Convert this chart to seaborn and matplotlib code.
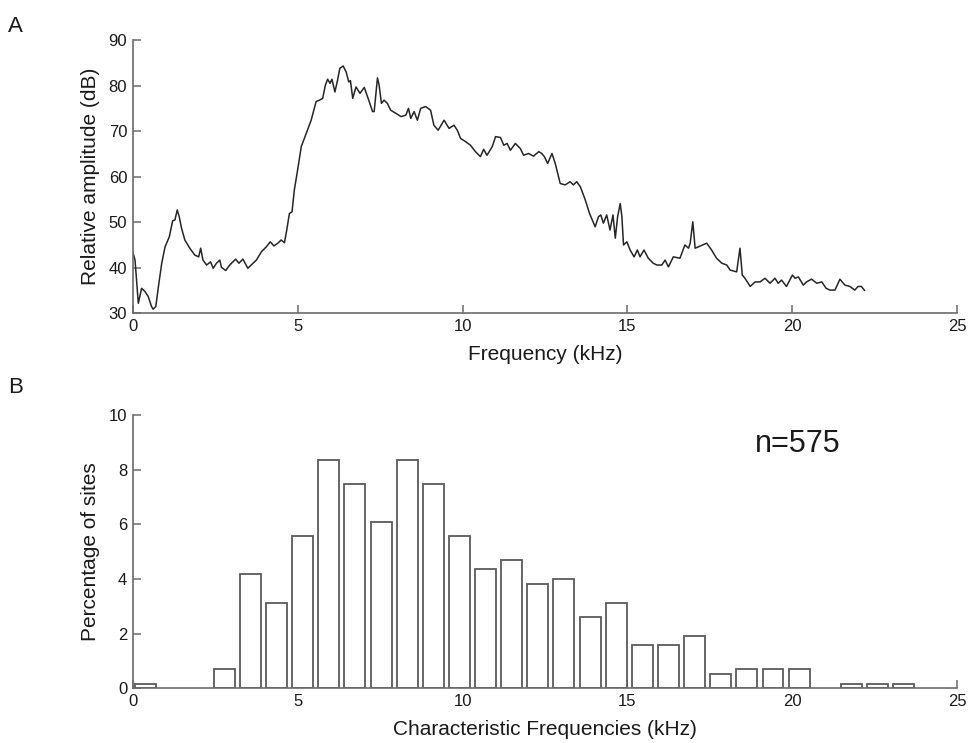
import matplotlib
matplotlib.use("Agg")
import matplotlib.pyplot as plt
import seaborn as sns
import pandas as pd
import numpy as np

# ---- Panel A: spectrum (frequency kHz, relative amplitude dB) ----
freq_khz = [0.00, 0.07, 0.17, 0.27, 0.37, 0.47, 0.57, 0.62, 0.70, 0.78, 0.88, 0.98,
            1.11, 1.21, 1.28, 1.35, 1.41, 1.48, 1.58, 1.73, 1.88, 2.00, 2.06, 2.13,
            2.24, 2.36, 2.44, 2.54, 2.64, 2.69, 2.82, 2.94, 3.12, 3.22, 3.34, 3.49,
            3.65, 3.75, 3.90, 4.05, 4.17, 4.28, 4.40, 4.50, 4.60, 4.67, 4.75, 4.83,
            4.90, 5.00, 5.11, 5.26, 5.41, 5.56, 5.66, 5.76, 5.84, 5.91, 5.98, 6.04,
            6.13, 6.21, 6.28, 6.38, 6.47, 6.55, 6.60, 6.67, 6.77, 6.89, 7.02, 7.17,
            7.27, 7.32, 7.42, 7.47, 7.54, 7.62, 7.72, 7.82, 7.98, 8.13, 8.28, 8.36,
            8.43, 8.53, 8.63, 8.73, 8.88, 9.03, 9.13, 9.26, 9.44, 9.59, 9.74, 9.84,
            9.94, 10.09, 10.24, 10.39, 10.54, 10.64, 10.74, 10.90, 11.00, 11.15, 11.25,
            11.35, 11.45, 11.60, 11.75, 11.85, 12.00, 12.15, 12.31, 12.40, 12.48, 12.58,
            12.71, 12.81, 12.96, 13.11, 13.26, 13.36, 13.46, 13.57, 13.72, 13.85, 14.02,
            14.12, 14.19, 14.27, 14.37, 14.47, 14.56, 14.63, 14.70, 14.78, 14.83, 14.88,
            14.98, 15.08, 15.20, 15.30, 15.38, 15.50, 15.63, 15.78, 15.89, 16.04, 16.14,
            16.24, 16.39, 16.59, 16.74, 16.85, 16.90, 16.98, 17.05, 17.15, 17.40, 17.55,
            17.70, 17.86, 18.01, 18.11, 18.31, 18.41, 18.48, 18.56, 18.72, 18.87, 19.02,
            19.17, 19.32, 19.47, 19.57, 19.67, 19.82, 20.00, 20.08, 20.18, 20.33, 20.43,
            20.58, 20.74, 20.89, 21.02, 21.14, 21.29, 21.44, 21.59, 21.74, 21.89, 21.99,
            22.09, 22.19]
amp_db = [43.5, 41.7, 32.2, 35.5, 34.8, 33.7, 31.5, 30.9, 31.5, 35.9, 41.0, 44.6,
          46.8, 50.3, 50.5, 52.7, 51.2, 48.7, 46.1, 44.3, 42.8, 42.4, 44.3, 41.7,
          40.6, 41.3, 39.9, 41.0, 41.7, 40.1, 39.4, 40.6, 41.9, 41.0, 41.9, 39.9,
          41.0, 41.7, 43.5, 44.6, 45.7, 44.8, 45.4, 46.1, 45.5, 48.3, 51.9, 52.3,
          57.1, 61.5, 66.6, 69.5, 72.4, 76.5, 76.8, 77.2, 80.1, 81.4, 80.5, 81.4,
          78.6, 81.2, 83.8, 84.3, 83.0, 80.8, 81.1, 77.2, 79.7, 78.3, 79.6, 76.5,
          74.3, 74.3, 81.7, 80.1, 76.1, 76.8, 76.1, 74.6, 73.9, 73.2, 73.5, 75.0,
          72.8, 74.3, 72.4, 75.0, 75.4, 74.6, 71.3, 70.2, 72.4, 70.6, 71.3, 70.2,
          68.4, 67.7, 66.9, 65.5, 64.4, 66.0, 64.7, 66.6, 68.8, 68.6, 66.9,
          67.3, 65.8, 67.3, 66.2, 64.7, 65.1, 64.5, 65.5, 65.1, 64.4, 62.9,
          65.1, 62.9, 58.5, 58.2, 58.9, 58.2, 58.9, 57.8, 54.9, 51.9, 49.0,
          51.2, 51.6, 49.8, 51.6, 48.3, 51.6, 46.5, 51.2, 54.1, 51.2, 45.0,
          45.7, 43.9, 42.4, 43.9, 42.4, 43.9, 42.1, 41.0, 40.6, 40.6, 41.7,
          40.2, 42.4, 42.1, 45.0, 44.3, 45.4, 50.1, 44.3, 44.6, 45.4, 43.9,
          42.1, 41.0, 40.6, 39.5, 39.1, 44.3, 38.4, 37.7, 35.9, 36.9, 36.9,
          37.7, 36.6, 37.7, 36.6, 37.3, 35.9, 38.4, 37.7, 38.0, 36.2, 36.9,
          37.5, 36.6, 36.9, 35.5, 35.1, 35.1, 37.5, 36.2, 35.9, 35.1, 35.9,
          35.9, 35.0]

# ---- Panel B: histogram of characteristic frequencies ----
bin_centers_khz = [0.40, 1.19, 1.98, 2.77, 3.56, 4.36, 5.15, 5.94, 6.73, 7.53,
                   8.32, 9.11, 9.90, 10.70, 11.49, 12.28, 13.07, 13.87, 14.66, 15.45,
                   16.24, 17.04, 17.83, 18.62, 19.41, 20.21, 21.00, 21.79, 22.58, 23.38]
pct_sites = [0.17, 0.0, 0.0, 0.70, 4.17, 3.13, 5.57, 8.35, 7.48, 6.09,
             8.35, 7.48, 5.57, 4.35, 4.70, 3.83, 4.00, 2.61, 3.13, 1.57,
             1.57, 1.91, 0.52, 0.70, 0.70, 0.70, 0.0, 0.17, 0.17, 0.17]
n_label = "n=575"

x_ticks = [0, 5, 10, 15, 20, 25]

FONT = ["Liberation Sans", "DejaVu Sans"]
sns.set_theme(style="white")
plt.rcParams["font.family"] = FONT
plt.rcParams["xtick.direction"] = "in"
plt.rcParams["ytick.direction"] = "in"

SPINE = "#6b6b6b"
TEXT = "#1a1a1a"

fig = plt.figure(figsize=(9.68, 7.43), dpi=100)
axA = fig.add_axes([0.1371, 0.5783, 0.8519, 0.3678])
axB = fig.add_axes([0.1371, 0.0736, 0.8519, 0.3678])

dfA = pd.DataFrame({"freq": freq_khz, "amp": amp_db})
sns.lineplot(data=dfA, x="freq", y="amp", ax=axA, color="#262626",
             linewidth=1.1, sort=False, estimator=None)
axA.set_xlim(0, 25)
axA.set_ylim(30, 90)
axA.set_xticks(x_ticks)
axA.set_yticks([30, 40, 50, 60, 70, 80, 90])
axA.set_xlabel("Frequency (kHz)", fontsize=15, color=TEXT, labelpad=8)
axA.set_ylabel("Relative amplitude (dB)", fontsize=15, color=TEXT, labelpad=6)

dfB = pd.DataFrame({"cf": bin_centers_khz, "pct": pct_sites})
dfB = dfB[dfB["pct"] > 0]
sns.barplot(data=dfB, x="cf", y="pct", ax=axB, native_scale=True,
            color="white", edgecolor="#5a5a5a", linewidth=1.3,
            width=0.8 * 0.7925 / dfB["cf"].diff().min(), errorbar=None, saturation=1)
axB.set_xlim(0, 25)
axB.set_ylim(0, 10)
axB.set_xticks(x_ticks)
axB.set_xticklabels([str(t) for t in x_ticks])
axB.set_yticks([0, 2, 4, 6, 8, 10])
axB.set_xlabel("Characteristic Frequencies (kHz)", fontsize=15, color=TEXT, labelpad=8)
axB.set_ylabel("Percentage of sites", fontsize=15, color=TEXT, labelpad=6)
axB.text(20.15, 8.95, n_label, fontsize=22, ha="center", va="center", color=TEXT)

for ax in (axA, axB):
    sns.despine(ax=ax, top=True, right=True)
    for s in ("left", "bottom"):
        ax.spines[s].set_color(SPINE)
        ax.spines[s].set_linewidth(1.2)
    ax.tick_params(direction="in", length=6, width=1.1, color=SPINE,
                   labelsize=12, labelcolor=TEXT, pad=4,
                   bottom=True, left=True)
    ax.grid(False)

fig.text(0.008, 0.965, "A", fontsize=16, color=TEXT, ha="left", va="center")
fig.text(0.008, 0.478, "B", fontsize=16, color=TEXT, ha="left", va="center")

fig.savefig("out.png", dpi=100, facecolor="white")
